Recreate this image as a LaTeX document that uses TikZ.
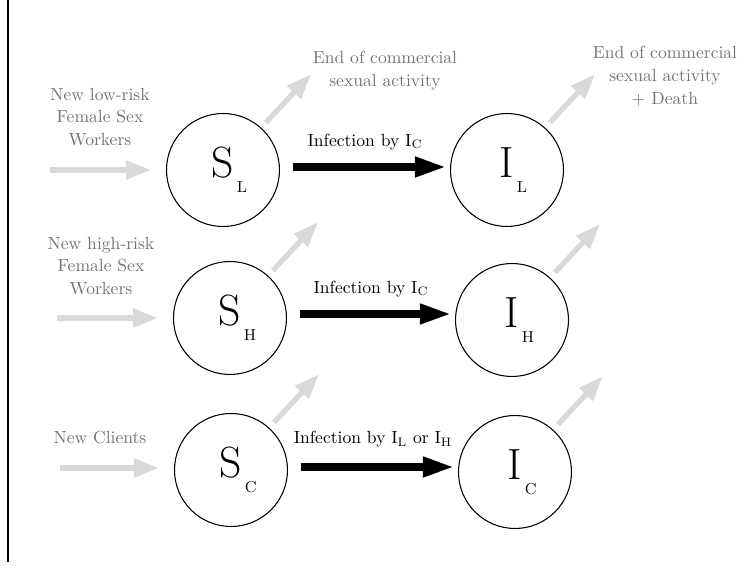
\documentclass[tikz,border=0pt]{standalone}
\usetikzlibrary{arrows.meta}

\newcommand{\comp}[2]{\hphantom{\small\,#2}{\Huge #1}\raisebox{-0.3cm}{\small\,#2}}

\tikzset{
  state/.style={circle, draw, semithick, minimum size=2.26cm, inner sep=0pt},
  note/.style={align=center, text=black!55},
  inflow/.style={line width=3pt, black!15, shorten >=0.3cm, -{Triangle[length=0.5cm, width=0.36cm]}},
  outflow/.style={line width=3pt, black!15, shorten <=0.14cm, -{Triangle[length=0.5cm, width=0.36cm]}},
  infect/.style={line width=4pt, shorten <=0.25cm, shorten >=0.08cm, -{Triangle[length=0.62cm, width=0.38cm]}}
}

\begin{document}
\begin{tikzpicture}[x=0.02cm, y=-0.02cm]
    \useasboundingbox (0,0) rectangle (755,570);
    \draw[thick] (8,0) -- (8,562);

    % ノードの定義
    \node[state] (SL) at (223,170) {\comp{S}{L}};
    \node[state] (IL) at (507,170) {\comp{I}{L}};
    \node[state] (SH) at (230,318) {\comp{S}{H}};
    \node[state] (IH) at (512,320) {\comp{I}{H}};
    \node[state] (SC) at (231,470) {\comp{S}{C}};
    \node[state] (IC) at (515,472) {\comp{I}{C}};

    % 流入・流出のラベル
    \node[note] (newL) at (100,117) {New low-risk\\[1pt]Female Sex\\[1pt]Workers};
    \node[note] (newH) at (101,266) {New high-risk\\[1pt]Female Sex\\[1pt]Workers};
    \node[note] (newC) at (100,438) {New Clients};
    \node[note] (endS) at (385,71) {End of commercial\\[1pt]sexual activity};
    \node[note] (endI) at (665,76) {End of commercial\\[1pt]sexual activity\\[1pt]+ Death};

    \coordinate (inL) at (50,170);
    \coordinate (inH) at (57,318);
    \coordinate (inC) at (60,468);
    \coordinate (rowL) at (0,167);
    \coordinate (rowH) at (0,314);
    \coordinate (rowC) at (0,467);

    % 流入
    \draw[inflow] (inL) -- (SL.west |- inL);
    \draw[inflow] (inH) -- (SH.west |- inH);
    \draw[inflow] (inC) -- (SC.west |- inC);

    % 流出
    \draw[outflow] (SL.48) -- ++(47:1.46cm);
    \draw[outflow] (SH.48) -- ++(47:1.46cm);
    \draw[outflow] (SC.48) -- ++(47:1.46cm);
    \draw[outflow] (IL.48) -- ++(47:1.46cm);
    \draw[outflow] (IH.48) -- ++(47:1.46cm);
    \draw[outflow] (IC.48) -- ++(47:1.46cm);

    % 感染
    \draw[infect] (SL.east |- rowL) -- (IL.west |- rowL) node[midway, above=4.5pt] {Infection by I$_{\mathrm{C}}$};
    \draw[infect] (SH.east |- rowH) -- (IH.west |- rowH) node[midway, above=4.5pt] {Infection by I$_{\mathrm{C}}$};
    \draw[infect] (SC.east |- rowC) -- (IC.west |- rowC) node[midway, above=6pt] {Infection by I$_{\mathrm{L}}$ or I$_{\mathrm{H}}$};

  \end{tikzpicture}
\end{document}
